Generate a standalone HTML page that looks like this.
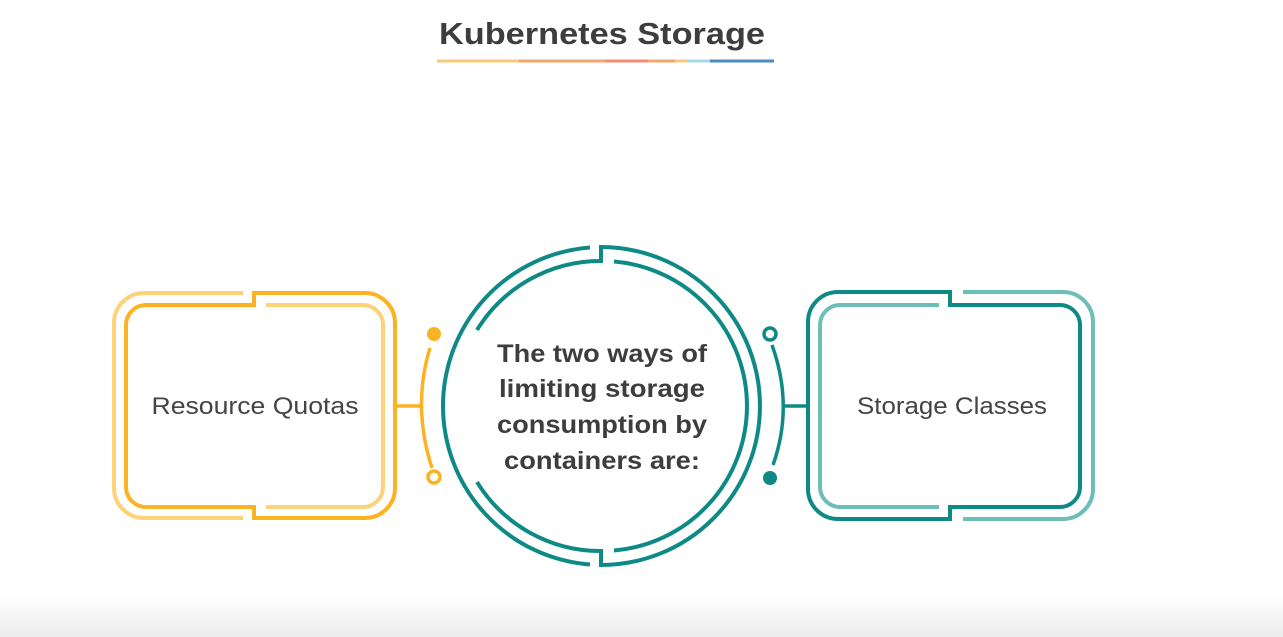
<!DOCTYPE html>
<html><head><meta charset="utf-8"><style>
html,body{margin:0;padding:0;background:#fff;}
svg{display:block;}
text{font-family:"Liberation Sans",sans-serif;}
</style></head><body>
<svg width="1283" height="637" viewBox="0 0 1283 637" xmlns="http://www.w3.org/2000/svg">
<defs><linearGradient id="bg" x1="0" y1="0" x2="0" y2="1"><stop offset="0" stop-color="#fff"/><stop offset="1" stop-color="#ececec"/></linearGradient></defs>
<rect width="1283" height="637" fill="#fff"/>
<rect x="0" y="595" width="1283" height="42" fill="url(#bg)"/>
<text x="602" y="44" text-anchor="middle" font-size="31" font-weight="bold" fill="#3d3d3d" textLength="326" lengthAdjust="spacingAndGlyphs">Kubernetes Storage</text>
<g stroke-width="3">
<line x1="437" y1="61" x2="519" y2="61" stroke="#f9c87c"/>
<line x1="519" y1="61" x2="605" y2="61" stroke="#f5a46d"/>
<line x1="605" y1="61" x2="648" y2="61" stroke="#ef8d76"/>
<line x1="648" y1="61" x2="675" y2="61" stroke="#f5a46d"/>
<line x1="675" y1="61" x2="688" y2="61" stroke="#f9c87c"/>
<line x1="688" y1="61" x2="710" y2="61" stroke="#a6d8e8"/>
<line x1="710" y1="61" x2="774" y2="61" stroke="#4a8fc0"/>
</g>
<g fill="none" stroke-width="4">
<path d="M254 305 L146 305 A20 20 0 0 0 126 325 L126 487 A20 20 0 0 0 146 507 L254 507 L254 518 L365 518 A30 30 0 0 0 395 488 L395 323 A30 30 0 0 0 365 293 L254 293 Z" stroke="#fbb324"/>
<path d="M243 293 L144 293 A30 30 0 0 0 114 323 L114 488 A30 30 0 0 0 144 518 L243 518 M266 305 L363 305 A20 20 0 0 1 383 325 L383 487 A20 20 0 0 1 363 507 L266 507" stroke="#fdd27a"/>
<path d="M950 305 L1060 305 A20 20 0 0 1 1080 325 L1080 487 A20 20 0 0 1 1060 507 L950 507 L950 519 L838 519 A30 30 0 0 1 808 489 L808 322 A30 30 0 0 1 838 292 L950 292 Z" stroke="#0e8a84"/>
<path d="M939 305 L840 305 A20 20 0 0 0 820 325 L820 487 A20 20 0 0 0 840 507 L939 507 M963 292 L1063 292 A30 30 0 0 1 1093 322 L1093 489 A30 30 0 0 1 1063 519 L963 519" stroke="#6dbdb8"/>
<path d="M590 247.5 A159 159 0 0 0 443 406 A159 159 0 0 0 590 564.5" stroke="#0e8a86"/>
<path d="M477 330 A145 145 0 0 1 601 261 L601 247 A159 159 0 0 1 601 565 L601 551 A145 145 0 0 1 477 482" stroke="#0e8a86"/>
<path d="M614 261.5 A145 145 0 0 1 614 550.5" stroke="#0e8a86"/>
<path d="M430 348 Q412 406 432 468" stroke="#fbb324" stroke-width="3.5"/>
<line x1="395" y1="406" x2="422" y2="406" stroke="#fbb324" stroke-width="3.5"/>
<circle cx="434" cy="477" r="6" stroke="#fbb324" stroke-width="3.5" fill="#fff"/>
<path d="M772 345 Q794 406 773 465" stroke="#0e8a86" stroke-width="3.5"/>
<line x1="784" y1="406" x2="808" y2="406" stroke="#0e8a86" stroke-width="3.5"/>
<circle cx="770" cy="334" r="6" stroke="#0e8a86" stroke-width="3.5" fill="#fff"/>
</g>
<circle cx="434" cy="334" r="7" fill="#fbb324"/>
<circle cx="770" cy="478" r="7" fill="#0e8a86"/>
<text x="255" y="414" text-anchor="middle" font-size="24" fill="#444" textLength="207" lengthAdjust="spacingAndGlyphs">Resource Quotas</text>
<text x="952" y="414" text-anchor="middle" font-size="24" fill="#444" textLength="190" lengthAdjust="spacingAndGlyphs">Storage Classes</text>
<g font-size="25" font-weight="bold" fill="#3d3d3d" text-anchor="middle">
<text x="602" y="362" textLength="210" lengthAdjust="spacingAndGlyphs">The two ways of</text>
<text x="602" y="397" textLength="206" lengthAdjust="spacingAndGlyphs">limiting storage</text>
<text x="602" y="433" textLength="210" lengthAdjust="spacingAndGlyphs">consumption by</text>
<text x="602" y="469" textLength="196" lengthAdjust="spacingAndGlyphs">containers are:</text>
</g>
</svg>
</body></html>
